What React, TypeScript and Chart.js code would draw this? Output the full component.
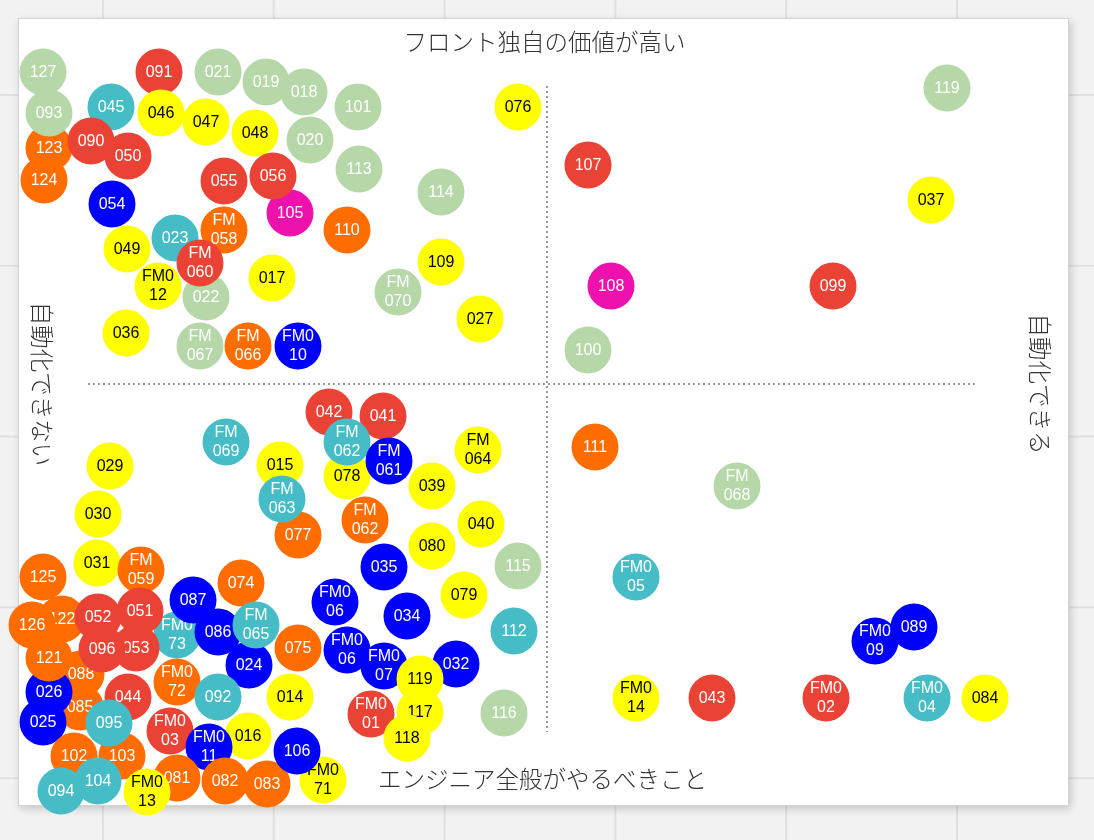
import React, { useEffect, useRef } from 'react';
import { Chart, registerables } from 'chart.js';

Chart.register(...registerables);

// ---- data (x: 自動化できる +, y: フロント独自の価値 +) ----
const itemLabels: string[] = [
  '124', '123', '127', '093', '045', '090', '050', '091', '046', '021',
  '019', '018', '047', '048', '020', '101', '113', '055', '105', '056',
  '054', '049', '023', 'FM\n058', '022', 'FM0\n12', 'FM\n060', '017', '110', '114',
  '109', 'FM\n070', '027', '076', '036', 'FM\n067', 'FM\n066', 'FM0\n10', '119', '107',
  '037', '108', '099', '100', '111', 'FM\n068', 'FM0\n05', 'FM0\n09', '089', 'FM0\n14',
  '043', 'FM0\n02', 'FM0\n04', '084', '042', '041', '078', 'FM\n062', 'FM\n061', 'FM\n069',
  '029', '030', '031', '125', 'FM\n059', '015', '077', 'FM\n063', 'FM\n062', 'FM\n064',
  '039', '040', '080', '035', '115', '079', '034', '112', 'FM0\n06', 'FM0\n06',
  'FM0\n07', '032', '116', 'FM0\n01', '119', '117', '118', '074', 'FM0\n73', '087',
  '086', '024', 'FM\n065', '075', '014', '122', '088', '085', '052', '126',
  '051', '053', '096', '026', '025', '121', '044', 'FM0\n72', '092', '102',
  '103', '095', '094', '104', 'FM0\n03', '016', 'FM0\n11', '081', '082', '083',
  'FM0\n71', '106', 'FM0\n13',
];

const itemGroups: string[] = [
  'O', 'O', 'G', 'G', 'T', 'R', 'R', 'R', 'Y', 'G',
  'G', 'G', 'Y', 'Y', 'G', 'G', 'G', 'R', 'M', 'R',
  'B', 'Y', 'T', 'O', 'G', 'Y', 'R', 'Y', 'O', 'G',
  'Y', 'G', 'Y', 'Y', 'Y', 'G', 'O', 'B', 'G', 'R',
  'Y', 'M', 'R', 'G', 'O', 'G', 'T', 'B', 'B', 'Y',
  'R', 'R', 'T', 'Y', 'R', 'R', 'Y', 'T', 'B', 'T',
  'Y', 'Y', 'Y', 'O', 'O', 'Y', 'O', 'T', 'O', 'Y',
  'Y', 'Y', 'Y', 'B', 'G', 'Y', 'B', 'T', 'B', 'B',
  'B', 'B', 'G', 'R', 'Y', 'Y', 'Y', 'O', 'T', 'B',
  'B', 'B', 'T', 'O', 'Y', 'O', 'O', 'O', 'R', 'O',
  'R', 'R', 'R', 'B', 'B', 'O', 'R', 'O', 'T', 'O',
  'O', 'T', 'T', 'T', 'R', 'Y', 'B', 'O', 'O', 'O',
  'Y', 'B', 'Y',
];

const automation: number[] = [
  -50.3, -49.8, -50.4, -49.8, -43.6, -45.6, -41.9, -38.8, -38.6, -32.9,
  -28.1, -24.3, -34.1, -29.2, -23.7, -18.9, -18.8, -32.3, -25.7, -27.4,
  -43.5, -42.0, -37.2, -32.3, -34.1, -38.9, -34.7, -27.5, -20.0, -10.6,
  -10.6, -14.9, -6.7, -2.9, -42.1, -34.7, -29.9, -24.9, 40.0, 4.1,
  38.4, 6.4, 28.6, 4.1, 4.8, 19.0, 8.9, 32.8, 36.7, 8.9,
  16.5, 27.9, 38.0, 43.8, -21.8, -16.4, -20.0, -20.0, -15.8, -32.1,
  -43.7, -44.9, -45.0, -50.4, -40.6, -26.7, -24.9, -26.5, -18.2, -6.9,
  -11.5, -6.6, -11.5, -16.3, -2.9, -8.3, -14.0, -3.3, -21.2, -20.0,
  -16.3, -9.1, -4.3, -17.6, -12.7, -12.7, -14.0, -30.6, -37.0, -35.4,
  -32.9, -29.8, -29.1, -24.9, -25.7, -48.5, -46.6, -46.7, -44.9, -51.5,
  -40.7, -41.1, -44.5, -49.8, -50.4, -49.8, -41.9, -37.0, -32.9, -47.3,
  -42.5, -43.8, -48.6, -44.9, -37.7, -29.9, -33.8, -37.0, -32.2, -28.0,
  -22.4, -25.0, -40.0,
];

const frontValue: number[] = [
  20.4, 23.6, 31.2, 27.1, 27.7, 24.3, 22.8, 31.2, 27.1, 31.2,
  30.2, 29.2, 26.2, 25.1, 24.4, 27.7, 21.5, 20.3, 17.1, 20.8,
  18.0, 13.5, 14.6, 15.4, 8.7, 9.8, 12.1, 10.6, 15.4, 19.2,
  12.2, 9.2, 6.5, 27.7, 5.1, 3.8, 3.8, 3.8, 29.6, 21.9,
  18.4, 9.8, 9.8, 3.4, -6.3, -10.2, -19.3, -25.7, -24.3, -31.4,
  -31.4, -31.4, -31.4, -31.4, -2.8, -3.2, -9.2, -5.8, -7.7, -5.8,
  -8.2, -13.0, -17.9, -19.3, -18.6, -8.1, -15.1, -11.5, -13.6, -6.6,
  -10.2, -14.0, -16.2, -18.3, -18.2, -21.1, -23.2, -24.7, -21.8, -26.6,
  -28.2, -28.0, -32.9, -33.0, -29.5, -32.8, -35.4, -19.9, -25.1, -21.6,
  -24.8, -28.1, -24.1, -26.4, -31.3, -23.5, -29.0, -32.3, -23.3, -24.1,
  -22.7, -26.4, -26.5, -30.8, -33.8, -27.4, -31.3, -29.8, -31.3, -37.2,
  -37.2, -33.9, -40.7, -39.7, -34.7, -35.2, -36.3, -39.4, -39.7, -40.0,
  -39.6, -36.7, -40.8,
];

// axis extents (data units) and quadrant divider extents
const X_MIN = -52.9;
const X_MAX = 52.2;
const Y_MIN = -42.2;
const Y_MAX = 36.6;
const V_DIV_FROM = 29.8;
const V_DIV_TO = -34.8;
const H_DIV_FROM = -45.9;
const H_DIV_TO = 43.1;

const TITLE_TOP = 'フロント独自の価値が高い';
const TITLE_BOTTOM = 'エンジニア全般がやるべきこと';
const TITLE_LEFT = '自動化できない';
const TITLE_RIGHT = '自動化できる';

// ---- styles ----
const GROUP_FILL: Record<string, string> = {
  G: '#b6d7a8',
  R: '#ea4335',
  O: '#ff6d01',
  Y: '#ffff00',
  T: '#46bdc6',
  B: '#0000ff',
  M: '#ef11ad',
};
const GROUP_TEXT: Record<string, string> = {
  G: '#ffffff', R: '#ffffff', O: '#ffffff', Y: '#000000', T: '#ffffff', B: '#ffffff', M: '#ffffff',
};
const BUBBLE_R = 23.5;
const BUBBLE_FONT = '16px "Liberation Sans", Arial, sans-serif';
const TITLE_FONT = '300 23.5px "Noto Sans CJK JP", "Noto Sans", sans-serif';

function makeBubble(label: string, fill: string, textColor: string): HTMLCanvasElement {
  const size = 50;
  const c = document.createElement('canvas');
  c.width = size;
  c.height = size;
  const ctx = c.getContext('2d')!;
  ctx.beginPath();
  ctx.arc(size / 2, size / 2, BUBBLE_R, 0, Math.PI * 2);
  ctx.fillStyle = fill;
  ctx.fill();
  ctx.fillStyle = textColor;
  ctx.font = BUBBLE_FONT;
  ctx.textAlign = 'center';
  ctx.textBaseline = 'middle';
  const lines = label.split('\n');
  if (lines.length === 1) {
    ctx.fillText(lines[0], size / 2, size / 2 + 0.5);
  } else {
    ctx.fillText(lines[0], size / 2, size / 2 - 9);
    ctx.fillText(lines[1], size / 2, size / 2 + 10);
  }
  return c;
}

const quadrantPlugin = {
  id: 'quadrants',
  beforeDatasetsDraw(chart: any) {
    const { ctx, chartArea } = chart;
    const xs = chart.scales.x;
    const ys = chart.scales.y;
    const x0 = xs.getPixelForValue(0);
    const y0 = ys.getPixelForValue(0);
    ctx.save();
    ctx.strokeStyle = '#9a9a9a';
    ctx.lineWidth = 2;
    ctx.setLineDash([2, 3]);
    ctx.beginPath();
    ctx.moveTo(x0, ys.getPixelForValue(V_DIV_FROM));
    ctx.lineTo(x0, ys.getPixelForValue(V_DIV_TO));
    ctx.stroke();
    ctx.beginPath();
    ctx.moveTo(xs.getPixelForValue(H_DIV_FROM), y0);
    ctx.lineTo(xs.getPixelForValue(H_DIV_TO), y0);
    ctx.stroke();
    ctx.setLineDash([]);

    ctx.fillStyle = '#333333';
    ctx.font = TITLE_FONT;
    ctx.textAlign = 'center';
    ctx.textBaseline = 'middle';
    const cx = (chartArea.left + chartArea.right) / 2;
    ctx.fillText(TITLE_TOP, cx + 1, chartArea.top + 24);
    ctx.fillText(TITLE_BOTTOM, cx - 1, chartArea.bottom - 27);

    ctx.save();
    ctx.translate(chartArea.left + 24, y0);
    ctx.rotate(Math.PI / 2);
    ctx.fillText(TITLE_LEFT, 0, 0);
    ctx.restore();

    ctx.save();
    ctx.translate(chartArea.right - 29, y0);
    ctx.rotate(Math.PI / 2);
    ctx.fillText(TITLE_RIGHT, 0, 0);
    ctx.restore();

    ctx.restore();
  },
};

export default function App() {
  const canvasRef = useRef<HTMLCanvasElement>(null);

  useEffect(() => {
    const canvas = canvasRef.current;
    if (!canvas) return;
    const bubbles = itemLabels.map((l, i) =>
      makeBubble(l, GROUP_FILL[itemGroups[i]], GROUP_TEXT[itemGroups[i]])
    );
    const points = automation.map((x, i) => ({ x, y: frontValue[i] }));
    const chart = new Chart(canvas, {
      type: 'scatter',
      data: {
        datasets: [
          {
            data: points,
            pointStyle: bubbles as any,
            pointRadius: BUBBLE_R,
            clip: false as any,
          },
        ],
      },
      options: {
        animation: false,
        responsive: false,
        events: [],
        layout: { padding: { left: 18, top: 18, right: 25, bottom: 34 }, autoPadding: false } as any,
        scales: {
          x: { type: 'linear', min: X_MIN, max: X_MAX, display: false },
          y: { type: 'linear', min: Y_MIN, max: Y_MAX, display: false },
        },
        plugins: {
          legend: { display: false },
          tooltip: { enabled: false },
        },
      },
      plugins: [quadrantPlugin],
    });
    return () => chart.destroy();
  }, []);

  return (
    <div
      style={{
        position: 'fixed',
        left: 0,
        top: 0,
        width: 1094,
        height: 840,
        overflow: 'hidden',
        backgroundColor: '#f2f2f2',
        backgroundImage:
          'linear-gradient(to right, #e0e0e0 0px, #e0e0e0 2px, transparent 2px), linear-gradient(to bottom, #e0e0e0 0px, #e0e0e0 2px, transparent 2px)',
        backgroundSize: '170.8px 170.8px',
        backgroundPosition: '102px 94px',
      }}
    >
      <div
        style={{
          position: 'absolute',
          left: 18,
          top: 18,
          width: 1051,
          height: 788,
          boxSizing: 'border-box',
          background: '#ffffff',
          border: '1px solid #d4d4d4',
          boxShadow: '2px 3px 8px rgba(0,0,0,0.18)',
        }}
      />
      <canvas
        ref={canvasRef}
        width={1094}
        height={840}
        style={{ position: 'absolute', left: 0, top: 0, width: 1094, height: 840, display: 'block' }}
      />
    </div>
  );
}
